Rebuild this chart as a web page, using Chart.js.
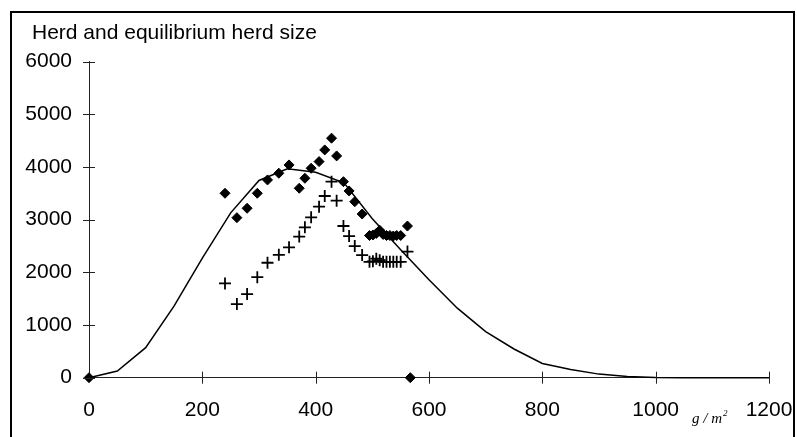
<!DOCTYPE html>
<html>
<head>
<meta charset="utf-8">
<script src="https://cdn.jsdelivr.net/npm/chart.js@4.4.0/dist/chart.umd.min.js"></script>
<style>
    html, body { margin: 0; padding: 0; background: #fff; }
    #wrap { position: relative; width: 797px; height: 437px; overflow: hidden; }
    #frame { position: absolute; left: 10px; top: 11px; width: 781px; height: 440px; border: 2px solid #000; }
    #chart { position: absolute; left: 0; top: 0; }
</style>
</head>
<body>
<div id="wrap">
    <div id="frame"></div>
    <canvas id="chart" width="797" height="437"></canvas>
</div>
<script>
// Equilibrium curve (solid line)
const curveX = [0, 50, 100, 150, 200, 250, 300, 350, 400, 450, 500, 550, 600,
    650, 700, 750, 800, 850, 900, 950, 1000, 1050, 1100, 1150, 1200];
const curveY = [0, 127, 570, 1360, 2270, 3130, 3745, 3965, 3900, 3700, 3020, 2430, 1860,
    1320, 875, 545, 270, 155, 68, 22, 5, 0, 0, 0, 0];

// Observations (g/m2)
const obsX = [240, 261, 279, 297, 315, 335, 353, 371, 381, 392, 406, 416, 428, 437, 449,
    459, 469, 482, 495, 501, 507, 513, 519, 525, 531, 537, 543, 550, 562];
// Herd size (diamonds)
const herdY = [3502, 3038, 3217, 3502, 3755, 3882, 4040, 3597, 3787, 3977, 4103, 4325, 4548, 4211, 3722,
    3546, 3342, 3108, 2700, 2710, 2740, 2800, 2720, 2700, 2700, 2690, 2700, 2700, 2880];
// Equilibrium herd size (crosses)
const equilY = [1790, 1397, 1587, 1908, 2183, 2333, 2475, 2680, 2855, 3045, 3247, 3450, 3722, 3361, 2880,
    2690, 2500, 2329, 2200, 2210, 2260, 2230, 2200, 2200, 2200, 2200, 2200, 2200, 2395];

// Diamonds sitting on the x axis
const baseX = [0, 567];
const baseY = [0, 0];

const xTicks = [0, 200, 400, 600, 800, 1000, 1200];
const yTicks = [0, 1000, 2000, 3000, 4000, 5000, 6000];

const chartTitle = 'Herd and equilibrium herd size';

function toPoints(xs, ys) {
    return xs.map((x, i) => ({ x: x, y: ys[i] }));
}

const tickFont = { family: "'Liberation Sans', Arial, sans-serif", size: 21 };

// Ticks that cross the axis lines, plus the title and unit label
const decorations = {
    id: 'decorations',
    afterDraw(chart) {
        const ctx = chart.ctx;
        const xs = chart.scales.x;
        const ys = chart.scales.y;
        const x0 = xs.getPixelForValue(0);
        const y0 = ys.getPixelForValue(0);

        ctx.save();
        ctx.strokeStyle = '#222';
        ctx.lineWidth = 1;
        ctx.beginPath();
        yTicks.forEach(v => {
            const py = Math.round(ys.getPixelForValue(v)) + 0.5;
            ctx.moveTo(x0 - 6, py);
            ctx.lineTo(x0 + 6, py);
        });
        xTicks.forEach(v => {
            if (v === 0) return;
            const px = Math.round(xs.getPixelForValue(v)) + 0.5;
            ctx.moveTo(px, y0 - 6);
            ctx.lineTo(px, y0 + 6);
        });
        ctx.stroke();

        ctx.fillStyle = '#000';
        ctx.textBaseline = 'alphabetic';
        ctx.textAlign = 'left';
        ctx.font = "21px 'Liberation Sans', Arial, sans-serif";
        ctx.fillText(chartTitle, 32, 39);

        ctx.font = "italic 15px 'Liberation Serif', 'Times New Roman', serif";
        const unit = 'g / m';
        ctx.fillText(unit, 692, 423);
        const w = ctx.measureText(unit).width;
        ctx.font = "italic 9px 'Liberation Serif', 'Times New Roman', serif";
        ctx.fillText('2', 692 + w + 1, 416);
        ctx.restore();
    }
};

new Chart(document.getElementById('chart'), {
    type: 'scatter',
    data: {
        datasets: [
            {
                label: 'Equilibrium',
                data: toPoints(curveX, curveY),
                showLine: true,
                borderColor: '#000',
                borderWidth: 1.5,
                pointRadius: 0,
                tension: 0,
                clip: false,
                order: 3
            },
            {
                label: 'Equilibrium herd size',
                data: toPoints(obsX, equilY),
                pointStyle: 'cross',
                pointRadius: 6,
                borderColor: '#000',
                borderWidth: 1.8,
                clip: false,
                order: 2
            },
            {
                label: 'Herd size',
                data: toPoints(obsX, herdY).concat(toPoints(baseX, baseY)),
                pointStyle: 'rectRot',
                pointRadius: 5,
                backgroundColor: '#000',
                borderColor: '#000',
                borderWidth: 1,
                clip: false,
                order: 1
            }
        ]
    },
    options: {
        responsive: false,
        animation: false,
        layout: { padding: { left: 0, top: 61.7, right: 28, bottom: 0 } },
        plugins: {
            legend: { display: false },
            tooltip: { enabled: false }
        },
        scales: {
            x: {
                type: 'linear',
                min: 0,
                max: 1200,
                afterBuildTicks: scale => { scale.ticks = xTicks.map(v => ({ value: v })); },
                afterFit: scale => {
                    scale.height = 59.3;
                    scale.paddingLeft = 0;
                    scale.paddingRight = 0;
                },
                grid: { display: false, drawTicks: false },
                border: { display: true, color: '#222', width: 1 },
                ticks: { color: '#000', font: tickFont, padding: 20, maxRotation: 0, callback: v => String(v) }
            },
            y: {
                type: 'linear',
                min: 0,
                max: 6000,
                afterBuildTicks: scale => { scale.ticks = yTicks.map(v => ({ value: v })); },
                afterFit: scale => {
                    scale.width = 89;
                    scale.paddingTop = 0;
                    scale.paddingBottom = 0;
                },
                grid: { display: false, drawTicks: false },
                border: { display: true, color: '#222', width: 1 },
                ticks: { color: '#000', font: tickFont, padding: 17, callback: v => String(v) }
            }
        }
    },
    plugins: [decorations]
});
</script>
</body>
</html>
